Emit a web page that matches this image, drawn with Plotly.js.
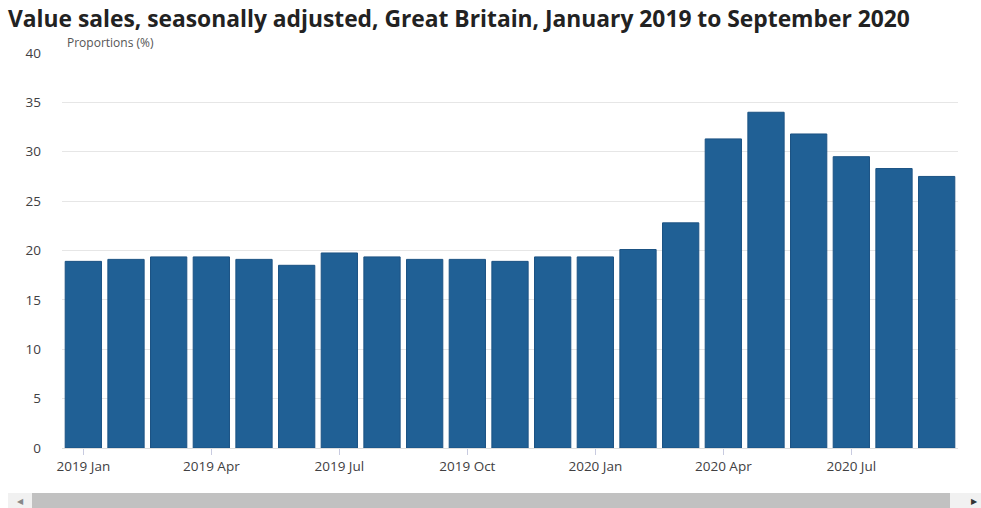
<!DOCTYPE html>
<html>
<head>
<meta charset="utf-8">
<script src="https://cdn.plot.ly/plotly-3.0.1.min.js"></script>
<style>html,body{margin:0;padding:0;background:#fff;}#chart{width:981px;height:508px;}</style>
</head>
<body>
<div id="chart"></div>
<script>
const months = ["2019 Jan","2019 Feb","2019 Mar","2019 Apr","2019 May","2019 Jun","2019 Jul","2019 Aug","2019 Sep","2019 Oct","2019 Nov","2019 Dec","2020 Jan","2020 Feb","2020 Mar","2020 Apr","2020 May","2020 Jun","2020 Jul","2020 Aug","2020 Sep"];
const proportions = [18.9,19.1,19.35,19.35,19.1,18.5,19.75,19.35,19.1,19.1,18.9,19.35,19.35,20.1,22.8,31.3,34.0,31.8,29.5,28.3,27.5];
const tickLabels = ["2019 Jan","2019 Apr","2019 Jul","2019 Oct","2020 Jan","2020 Apr","2020 Jul"];
const yTicks = [0,5,10,15,20,25,30,35,40];

const trace = {
  type: 'bar',
  x: months,
  y: proportions,
  marker: {color: '#206095', line: {color: '#1b5283', width: 1}},
  hoverinfo: 'x+y'
};

const layout = {
  width: 981, height: 508,
  margin: {l: 62, r: 23, t: 53, b: 60},
  paper_bgcolor: '#ffffff', plot_bgcolor: '#ffffff',
  bargap: 0.15,
  showlegend: false,
  font: {family: 'Open Sans, sans-serif', size: 13, color: '#414042'},
  title: {
    text: 'Value sales, seasonally adjusted, Great Britain, January 2019 to September 2020',
    x: 8/981, xanchor: 'left', xref: 'container', y: 0.963, yanchor: 'middle', yref: 'container',
    font: {family: 'Open Sans, sans-serif', size: 22.8, color: '#222222', weight: 'bold'}
  },
  xaxis: {
    type: 'category',
    range: [-0.5, 20.5],
    tickmode: 'array', tickvals: tickLabels, ticktext: tickLabels,
    ticks: 'outside', ticklen: 6, tickcolor: '#c8cbe0', tickwidth: 1,
    showline: true, linecolor: '#dddddd', linewidth: 1,
    showgrid: false, zeroline: false,
    tickfont: {size: 13.5, color: '#414042'}
  },
  yaxis: {
    range: [0, 40],
    tickmode: 'array', tickvals: yTicks,
    showgrid: true, gridcolor: '#e6e6e6', gridwidth: 1,
    zeroline: false, showline: false,
    ticks: '', ticklabelstandoff: 20,
    tickfont: {size: 13.5, color: '#414042'}
  },
  annotations: [{
    text: 'Proportions (%)', xref: 'paper', yref: 'paper', x: 0.003, y: 1.0,
    xanchor: 'left', yanchor: 'bottom', showarrow: false,
    font: {size: 12, color: '#555555'}
  }, {
    text: '◀', xref: 'paper', yref: 'paper', x: (20-62)/896, y: -0.133,
    xanchor: 'center', yanchor: 'middle', showarrow: false, font: {size: 8, color: '#888888'}
  }, {
    text: '▶', xref: 'paper', yref: 'paper', x: (974-62)/896, y: -0.133,
    xanchor: 'center', yanchor: 'middle', showarrow: false, font: {size: 8, color: '#333333'}
  }],
  shapes: [{
    type: 'rect', xref: 'paper', yref: 'paper',
    x0: (32-62)/896, x1: (950-62)/896, y0: -0.114, y1: -0.16,
    fillcolor: '#c1c1c1', line: {width: 0}
  }, {
    type: 'rect', xref: 'paper', yref: 'paper',
    x0: (8-62)/896, x1: (32-62)/896, y0: -0.114, y1: -0.16,
    fillcolor: '#f1f1f1', line: {width: 0}
  }, {
    type: 'rect', xref: 'paper', yref: 'paper',
    x0: (950-62)/896, x1: (981-62)/896, y0: -0.114, y1: -0.16,
    fillcolor: '#f1f1f1', line: {width: 0}
  }]
};

Plotly.newPlot('chart', [trace], layout, {displayModeBar: false, staticPlot: true});
</script>
</body>
</html>
